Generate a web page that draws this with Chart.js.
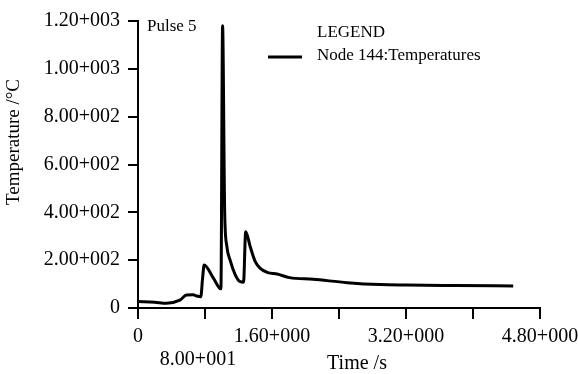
<!DOCTYPE html>
<html lang="en">
  <head>
    <meta charset="UTF-8" />
    <title>Pulse 5</title>
    <script src="https://cdn.jsdelivr.net/npm/chart.js@4.4.0/dist/chart.umd.min.js"></script>
    <style>
      html, body { margin: 0; padding: 0; background: #fff; }
      #wrap { width: 578px; height: 374px; }
    </style>
  </head>
  <body>
    <div id="wrap"><canvas id="chart_id"></canvas></div>
    <script>
      // data (time in s, temperature in C)
      const times = [0, 20, 34, 50, 58, 66, 70, 75, 77, 79, 90, 99, 101, 103.5, 106, 110, 116, 122, 126, 128.6, 134, 140, 146, 155, 166, 181, 209, 250, 289, 321, 380, 448];
      const temps = [27, 24, 20, 33, 54, 55, 50, 47, 120, 180, 125, 80, 1180, 400, 260, 200, 140, 110, 108, 319, 256, 194, 166, 148, 142, 127, 120, 106, 98, 96, 94, 92];

      const xTickLabels = { 0: "0", 160: "1.60+000", 320: "3.20+000", 480: "4.80+000" };
      const xLowLabel = "8.00+001"; // sits on a second row under tick 80
      const yTickLabels = { 0: "0", 200: "2.00+002", 400: "4.00+002", 600: "6.00+002", 800: "8.00+002", 1000: "1.00+003", 1200: "1.20+003" };

      const seriesLabel = "Node 144:Temperatures";
      const serif = "'Liberation Serif', 'DejaVu Serif', serif";

      const points = times.map((t, i) => ({ x: t, y: temps[i] }));

      // extra texts: pulse name, legend box, axis titles
      const notes = {
        id: "notes",
        afterDraw(chart) {
          const c = chart.ctx;
          const xs = chart.scales.x;
          c.save();
          c.fillStyle = "#000";
          c.textBaseline = "middle";
          c.font = "17px " + serif;
          c.fillText("Pulse 5", 147, 27);
          c.fillText("LEGEND", 317, 33);
          c.fillText(seriesLabel, 317, 56);
          c.strokeStyle = "#000";
          c.lineWidth = 3;
          c.beginPath();
          c.moveTo(268, 57);
          c.lineTo(302, 57);
          c.stroke();

          c.font = "20px " + serif;
          c.textAlign = "center";
          c.fillText(xLowLabel, xs.getPixelForValue(80) - 7, 360);
          c.fillText("Time /s", 357, 364);

          c.translate(14, 142);
          c.rotate(-Math.PI / 2);
          c.font = "19px " + serif;
          c.fillText("Temperature /°C", 0, 0);
          c.restore();
        },
      };

      let ctx = document.getElementById("chart_id").getContext("2d");

      let chart = new Chart(ctx, {
        type: "line",
        data: {
          datasets: [
            {
              label: seriesLabel,
              data: points,
              borderColor: "#000",
              backgroundColor: "#000",
              borderWidth: 3,
              pointRadius: 0,
              tension: 0.3,
              cubicInterpolationMode: "monotone",
            },
          ],
        },
        options: {
          responsive: true,
          maintainAspectRatio: false,
          animation: false,
          layout: { padding: { top: 21, right: 0, left: 0, bottom: 0 } },
          plugins: { legend: { display: false }, tooltip: { enabled: false } },
          scales: {
            x: {
              type: "linear",
              min: 0,
              max: 480,
              afterFit: (s) => { s.height = 66; s.paddingRight = 38; s.paddingLeft = 0; },
              border: { display: true, color: "#000", width: 2 },
              grid: { drawOnChartArea: false, drawTicks: true, tickLength: 11, color: "#000", lineWidth: 2 },
              ticks: {
                stepSize: 80,
                autoSkip: false,
                maxRotation: 0,
                color: "#000",
                padding: 6,
                font: { family: serif, size: 20 },
                callback: (v) => (xTickLabels[v] !== undefined ? xTickLabels[v] : ""),
              },
            },
            y: {
              min: 0,
              max: 1200,
              afterFit: (s) => { s.width = 138; },
              border: { display: true, color: "#000", width: 2 },
              grid: { drawOnChartArea: false, drawTicks: true, tickLength: 10, color: "#000", lineWidth: 2 },
              ticks: {
                stepSize: 200,
                color: "#000",
                padding: 8,
                font: { family: serif, size: 20 },
                callback: (v) => yTickLabels[v] || "",
              },
            },
          },
        },
        plugins: [notes],
      });
    </script>
  </body>
</html>
